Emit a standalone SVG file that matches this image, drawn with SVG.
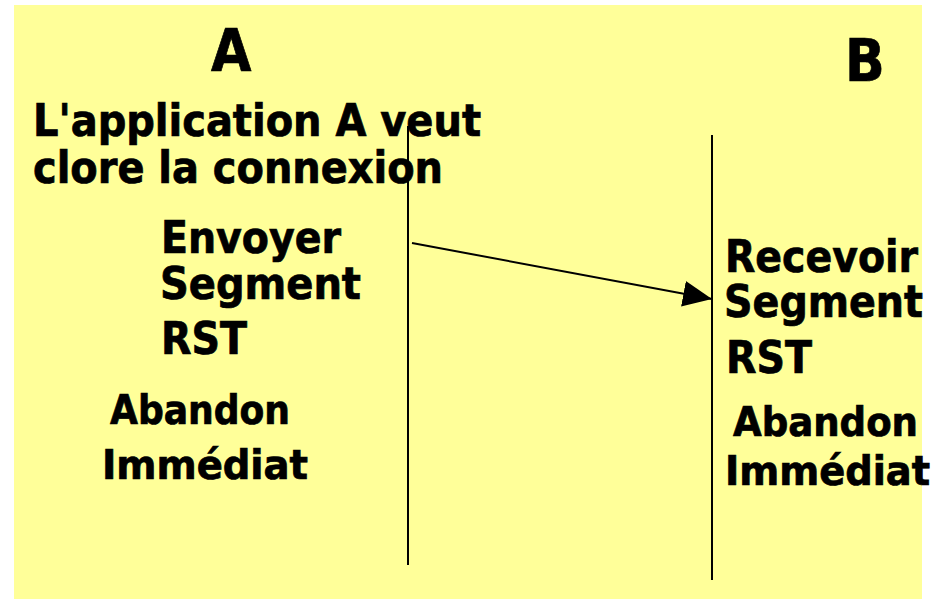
<svg xmlns="http://www.w3.org/2000/svg" width="934" height="599" viewBox="0 0 934 599">
  <style>
    .t { font-family: "DejaVu Sans Condensed", "DejaVu Sans", sans-serif; font-weight: bold; fill: #000; stroke: #000; stroke-width: 0.7; }
    .big { font-size: 58px; }
    .m { font-size: 44px; }
    .s { font-size: 41px; }
    .life { stroke: #000; stroke-width: 2; fill: none; }
    .msg { stroke: #000; stroke-width: 2; fill: none; }
  </style>
  <defs>
    <marker id="head" markerUnits="userSpaceOnUse" markerWidth="30" markerHeight="28" viewBox="0 -14 30 28" refX="29" refY="0" orient="auto">
      <path d="M0,-13 L29,0 L0,13 Z" fill="#000"/>
    </marker>
  </defs>

  <!-- slide background -->
  <rect x="14" y="5" width="908" height="594" fill="#FFFF99"/>

  <!-- host A -->
  <g id="hostA">
    <text class="t big" x="211" y="71">A</text>
    <text class="t m" x="33" y="136" textLength="448" lengthAdjust="spacingAndGlyphs">L'application A veut</text>
    <text class="t m" x="33" y="183" textLength="410" lengthAdjust="spacingAndGlyphs">clore la connexion</text>
    <text class="t m" x="161" y="253" textLength="180" lengthAdjust="spacingAndGlyphs">Envoyer</text>
    <text class="t m" x="160" y="299" textLength="201" lengthAdjust="spacingAndGlyphs">Segment</text>
    <text class="t m" x="161" y="354" textLength="86" lengthAdjust="spacingAndGlyphs">RST</text>
    <text class="t s" x="110" y="424" textLength="180" lengthAdjust="spacingAndGlyphs">Abandon</text>
    <text class="t s" x="102" y="479" textLength="206" lengthAdjust="spacingAndGlyphs">Immédiat</text>
  </g>

  <!-- host B -->
  <g id="hostB">
    <text class="t big" x="845" y="81">B</text>
    <text class="t m" x="725" y="272" textLength="193" lengthAdjust="spacingAndGlyphs">Recevoir</text>
    <text class="t m" x="724" y="317" textLength="199" lengthAdjust="spacingAndGlyphs">Segment</text>
    <text class="t m" x="726" y="373" textLength="86" lengthAdjust="spacingAndGlyphs">RST</text>
    <text class="t s" x="733" y="436" textLength="185" lengthAdjust="spacingAndGlyphs">Abandon</text>
    <text class="t s" x="725" y="485" textLength="205" lengthAdjust="spacingAndGlyphs">Immédiat</text>
  </g>

  <!-- time lines -->
  <g id="lifelines">
    <line class="life" x1="408" y1="126" x2="408" y2="565"/>
    <line class="life" x1="712" y1="135" x2="712" y2="580"/>
  </g>

  <!-- RST segment from A to B -->
  <g id="connectors">
    <line class="msg" x1="412" y1="243" x2="712" y2="299" marker-end="url(#head)"/>
  </g>
</svg>
